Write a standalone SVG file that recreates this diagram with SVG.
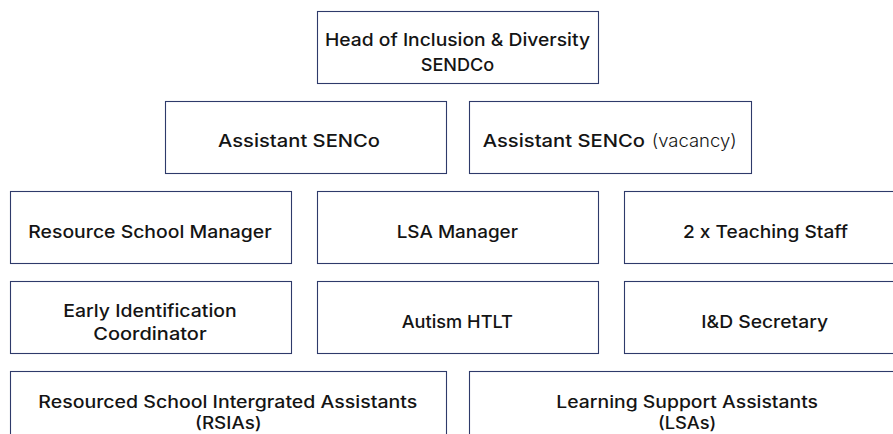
<svg xmlns="http://www.w3.org/2000/svg" width="893" height="434" viewBox="0 0 893 434">
<style>
.box{fill:#ffffff;stroke:#2e3a6a;stroke-width:1.1}
.t{font-family:Inter,"Open Sans","Liberation Sans",sans-serif;font-size:17.5px;font-weight:500;fill:#141414}
.l{font-weight:300}
.s{font-size:16.8px}
</style>
<rect x="0" y="0" width="893" height="434" fill="#ffffff"/>
<g id="connectors"/>
<g id="head">
<rect class="box" x="317.5" y="11.5" width="281" height="72"/>
<text class="t" x="325" y="46" textLength="265" lengthAdjust="spacingAndGlyphs">Head of Inclusion &amp; Diversity</text>
<text class="t" x="420.7" y="70.7" textLength="73.6" lengthAdjust="spacingAndGlyphs">SENDCo</text>
</g>
<g id="assistant-senco">
<rect class="box" x="165.5" y="101.5" width="281" height="72"/>
<text class="t" x="218" y="146.7" textLength="162" lengthAdjust="spacingAndGlyphs">Assistant SENCo</text>
</g>
<g id="assistant-senco-vacancy">
<rect class="box" x="469.5" y="101.5" width="282" height="72"/>
<text class="t" x="482.7" y="146.7" textLength="162.3" lengthAdjust="spacingAndGlyphs">Assistant SENCo</text>
<text class="t l" x="651.7" y="146.7" textLength="85" lengthAdjust="spacingAndGlyphs">(vacancy)</text>
</g>
<g id="resource-school-manager">
<rect class="box" x="10.5" y="191.5" width="281" height="72"/>
<text class="t" x="28.3" y="238.3" textLength="243.4" lengthAdjust="spacingAndGlyphs">Resource School Manager</text>
</g>
<g id="lsa-manager">
<rect class="box" x="317.5" y="191.5" width="281" height="72"/>
<text class="t" x="396.7" y="238.3" textLength="121.3" lengthAdjust="spacingAndGlyphs">LSA Manager</text>
</g>
<g id="teaching-staff">
<rect class="box" x="624.5" y="191.5" width="282" height="72"/>
<text class="t" x="683" y="238.3" textLength="165" lengthAdjust="spacingAndGlyphs">2 x Teaching Staff</text>
</g>
<g id="early-identification">
<rect class="box" x="10.5" y="281.5" width="281" height="72"/>
<text class="t" x="63.3" y="316.7" textLength="173.4" lengthAdjust="spacingAndGlyphs">Early Identification</text>
<text class="t" x="93.3" y="340" textLength="113.4" lengthAdjust="spacingAndGlyphs">Coordinator</text>
</g>
<g id="autism-htlt">
<rect class="box" x="317.5" y="281.5" width="281" height="72"/>
<text class="t" x="401.7" y="328" textLength="111.3" lengthAdjust="spacingAndGlyphs">Autism HTLT</text>
</g>
<g id="id-secretary">
<rect class="box" x="624.5" y="281.5" width="282" height="72"/>
<text class="t" x="701.3" y="328" textLength="126.7" lengthAdjust="spacingAndGlyphs">I&amp;D Secretary</text>
</g>
<g id="rsias">
<rect class="box" x="10.5" y="371.5" width="436" height="80"/>
<text class="t s" x="38.3" y="407.5" textLength="379" lengthAdjust="spacingAndGlyphs">Resourced School Intergrated Assistants</text>
<text class="t s" x="195" y="428.5" textLength="66.7" lengthAdjust="spacingAndGlyphs">(RSIAs)</text>
</g>
<g id="lsas">
<rect class="box" x="469.5" y="371.5" width="440" height="80"/>
<text class="t s" x="556.3" y="407.5" textLength="261.7" lengthAdjust="spacingAndGlyphs">Learning Support Assistants</text>
<text class="t s" x="658" y="428.5" textLength="58.3" lengthAdjust="spacingAndGlyphs">(LSAs)</text>
</g>
</svg>
